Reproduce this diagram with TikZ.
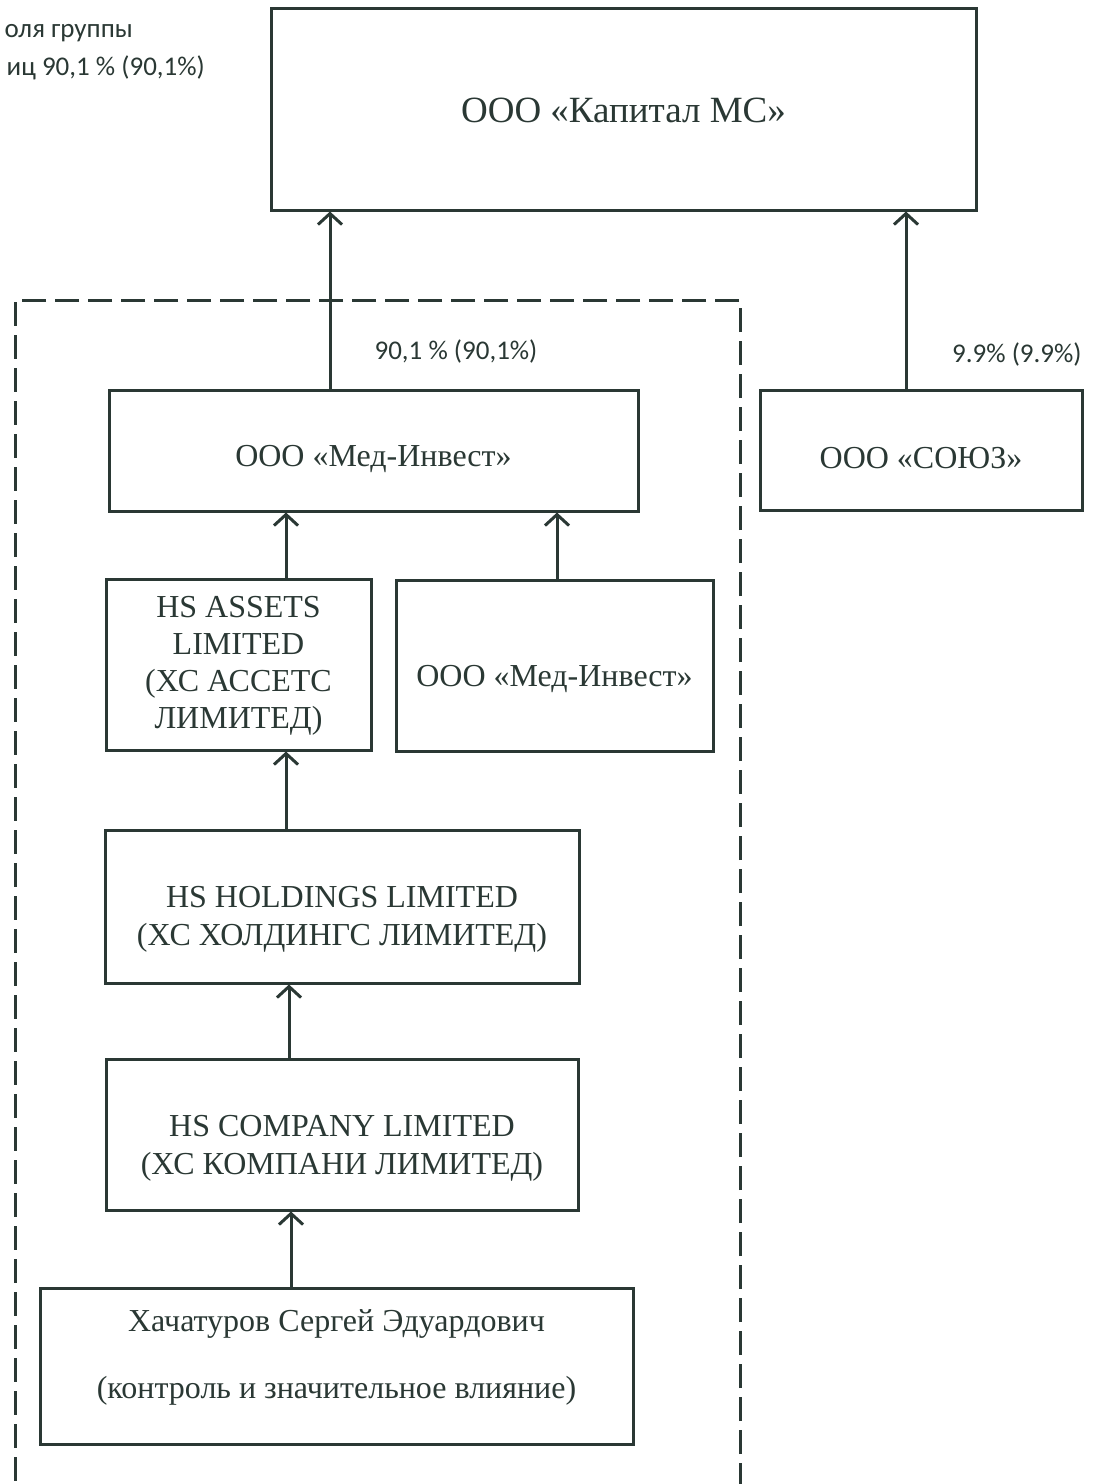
\documentclass[tikz,border=0pt]{standalone}
\usepackage{fontspec}
\setmainfont{Liberation Serif}
\newfontfamily\lab{Carlito}
\usetikzlibrary{arrows.meta}
\definecolor{ink}{RGB}{42,56,52}
\newcommand\lowr[2]{\raisebox{#1}[\height][\depth]{#2}}
\begin{document}
\begin{tikzpicture}[x=1pt,y=-1pt,
  box/.style={draw=ink,line width=3pt,rectangle,inner sep=0pt,align=center,text=ink,
    font=\fontsize{32}{38}\selectfont},
  arr/.style={draw=ink,line width=3pt,-{Straight Barb[length=11pt,width=24pt,line width=3pt]}},
  lbl/.style={text=ink,font=\lab\fontsize{27}{35}\selectfont,inner sep=0pt}]
\useasboundingbox (0,0) rectangle (1093,1484);
\clip (0,0) rectangle (1093,1484);
\fill[white] (0,0) rectangle (1093,1484);
% dashed group frame
\draw[ink,line width=3pt,dash pattern=on 24pt off 9pt] (740,1520) -- (740,300) -- (15,300) -- (15,1520);
% boxes
\node[box,minimum width=705pt,minimum height=202pt,font=\fontsize{37}{42}\selectfont] (kap) at (623.5,109) {\lowr{-1pt}{ООО «Капитал МС»}};
\node[box,minimum width=529pt,minimum height=121pt] (med) at (373.5,450.5) {\lowr{-8pt}{ООО «Мед-Инвест»}};
\node[box,minimum width=322pt,minimum height=120pt] (soy) at (921,450) {\lowr{-8pt}{ООО «СОЮЗ»}};
\node[box,minimum width=265pt,minimum height=171pt] (hsa) at (238.5,664.5) {\lowr{-1pt}{\begin{tabular}{@{}c@{}}HS ASSETS\\[-1pt]LIMITED\\[-1pt](ХС АССЕТС\\[-1pt]ЛИМИТЕД)\end{tabular}}};
\node[box,minimum width=317pt,minimum height=171pt] (med2) at (554.5,665.5) {\lowr{-13pt}{ООО «Мед-Инвест»}};
\node[box,minimum width=474pt,minimum height=153pt] (hsh) at (342,906.5) {\lowr{-12pt}{\begin{tabular}{@{}c@{}}HS HOLDINGS LIMITED\\(ХС ХОЛДИНГС ЛИМИТЕД)\end{tabular}}};
\node[box,minimum width=472pt,minimum height=151pt] (hsc) at (342,1134.5) {\lowr{-13pt}{\begin{tabular}{@{}c@{}}HS COMPANY LIMITED\\(ХС КОМПАНИ ЛИМИТЕД)\end{tabular}}};
\node[box,minimum width=593pt,minimum height=156pt] (kh) at (336.5,1366) {\lowr{9pt}{\begin{tabular}{@{}c@{}}Хачатуров Сергей Эдуардович\\[29pt](контроль и значительное влияние)\end{tabular}}};
% labels
\node[lbl,anchor=east] (t1) at (133,33) {оля группы};
\node[lbl,anchor=east] (t2) at (205,68) {иц 90,1 \% (90,1\%)};
\node[lbl] (p1) at (456,351) {90,1 \% (90,1\%)};
\node[lbl,anchor=west] (p2) at (952,354) {9.9\% (9.9\%)};
% connectors
\coordinate (xa) at (330,0);
\coordinate (xb) at (906,0);
\coordinate (xc) at (286,0);
\coordinate (xd) at (557,0);
\coordinate (xe) at (289,0);
\coordinate (xf) at (291,0);
\draw[arr] (med.north -| xa) -- (kap.south -| xa);
\draw[arr] (soy.north -| xb) -- (kap.south -| xb);
\draw[arr] (hsa.north -| xc) -- (med.south -| xc);
\draw[arr] (med2.north -| xd) -- (med.south -| xd);
\draw[arr] (hsh.north -| xc) -- (hsa.south -| xc);
\draw[arr] (hsc.north -| xe) -- (hsh.south -| xe);
\draw[arr] (kh.north -| xf) -- (hsc.south -| xf);
\end{tikzpicture}
\end{document}
